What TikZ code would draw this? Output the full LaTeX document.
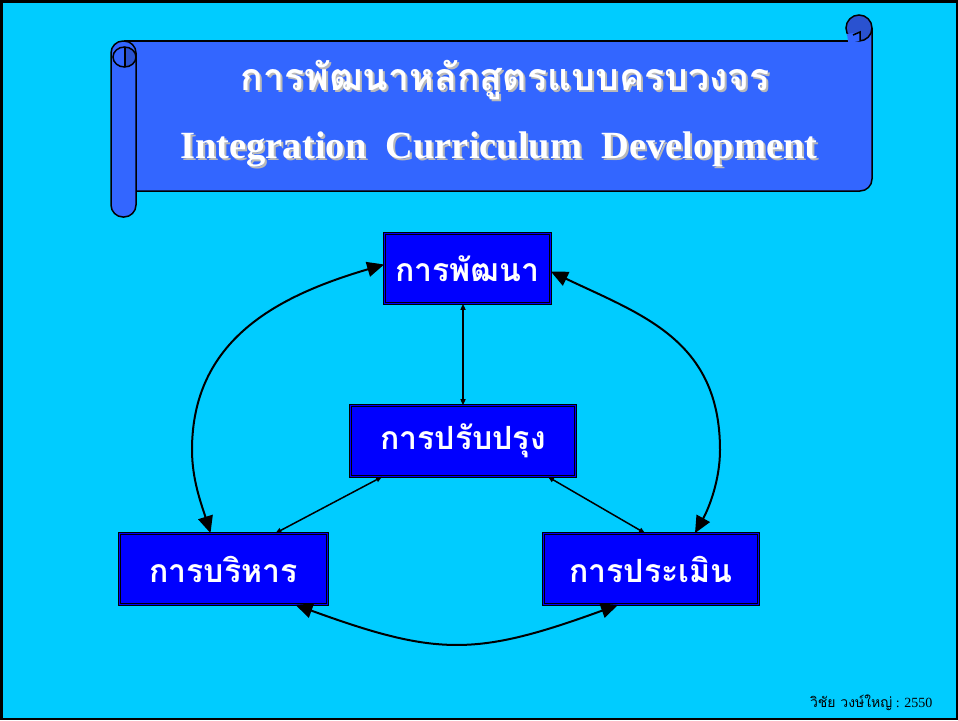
\documentclass[tikz,border=0pt]{standalone}
\usepackage{fontspec}
\setmainfont{Liberation Serif}
\newfontfamily\thaifont[Script=Thai]{Loma}
\usetikzlibrary{arrows.meta}
\definecolor{skybg}{HTML}{00CCFF}
\definecolor{scrollblue}{HTML}{3366FF}
\definecolor{curlblue}{HTML}{2A52D0}
\definecolor{boxblue}{HTML}{0000FF}
\tikzset{
  stage/.style={draw=black, line width=0.7pt, double=boxblue, double distance=1.8pt,
    fill=boxblue, text=white, inner sep=0pt,
    font=\thaifont\bfseries\fontsize{32}{36}\selectfont},
  bigarrow/.style={line width=2pt,
    {Triangle[length=17pt,width=15pt]}-{Triangle[length=17pt,width=15pt]}},
  smallarrow/.style={line width=1.5pt,
    {Triangle[length=6pt,width=5pt]}-{Triangle[length=6pt,width=5pt]}},
  shade/.style={text=gray!55},
}
\begin{document}
\begin{tikzpicture}[x=1pt,y=-1pt,semithick]
    \useasboundingbox (0,0) rectangle (958,720);
    \fill[skybg] (0,0) rectangle (958,720);
    \draw[line width=2.5pt] (1.25,1.25) rectangle (956.75,718.75);

    % scroll banner
    \begin{scope}[line width=1.5pt]
      \fill[scrollblue] (124,41) -- (859,41) -- (859,28) -- (872,28)
        [rounded corners=12pt] -- (872,191) -- (124,191) [sharp corners] -- cycle;
      \draw (124,41) -- (848,41);
      \draw[rounded corners=12pt] (872,28) -- (872,191) -- (130,191);
      \filldraw[fill=curlblue] (859,28) circle[radius=13pt];
      \fill[scrollblue] (847,34) -- (860,32) -- (860,41) -- (848,41) -- cycle;
      \draw (853,35) -- (860,32) -- (860,41);
      \filldraw[fill=scrollblue, rounded corners=12pt] (111,41) rectangle (136,217);
      \fill[curlblue] (124.5,57) ellipse[x radius=11.5pt, y radius=10pt];
      \begin{scope}
        \clip (110,40) rectangle (125,70);
        \fill[scrollblue] (124.5,57) ellipse[x radius=11.5pt, y radius=10pt];
      \end{scope}
      \draw (124.5,57) ellipse[x radius=11.5pt, y radius=10pt];
      \draw (125,47) -- (125,67);
    \end{scope}

    \node[shade, font=\thaifont\bfseries\fontsize{37.5}{42}\selectfont] (thts) at (507,82) {การพัฒนาหลักสูตรแบบครบวงจร};
    \node[text=white, font=\thaifont\bfseries\fontsize{37.5}{42}\selectfont] (tht) at (505,80) {การพัฒนาหลักสูตรแบบครบวงจร};
    \node[shade, font=\bfseries\fontsize{38.5}{42}\selectfont] (tens) at (501,151) {Integration\ \ Curriculum\ \ Development};
    \node[text=white, font=\bfseries\fontsize{38.5}{42}\selectfont] (ten) at (499,149) {Integration\ \ Curriculum\ \ Development};

    % stages
    \node[stage, minimum width=166pt, minimum height=70pt] (dev) at (467.5,268.5) {การพัฒนา};
    \node[stage, minimum width=225pt, minimum height=71pt] (imp) at (463,441) {การปรับปรุง};
    \node[stage, minimum width=208pt, minimum height=71pt] (adm) at (223.5,569) {การบริหาร};
    \node[stage, minimum width=215pt, minimum height=71pt] (eva) at (651,569) {การประเมิน};

    \draw[smallarrow] (imp.north) -- (imp.north |- dev.south);
    \draw[smallarrow] ([xshift=-81pt]imp.south) -- ([xshift=52pt]adm.north);
    \draw[smallarrow] ([xshift=85pt]imp.south) -- ([xshift=-6pt]eva.north);

    \draw[bigarrow] ([yshift=4pt]dev.west) .. controls (277,296) and (192,340) .. (192,450)
      .. controls (192,480) and (201.7,505) .. ([xshift=-13pt]adm.north);
    \draw[bigarrow] ([yshift=-3pt]dev.east) .. controls (642,315) and (720,340) .. (720,450)
      .. controls (720,480) and (709,508) .. ([xshift=44pt]eva.north);
    \draw[bigarrow] ([xshift=72pt]adm.south) to[out=-20, in=200, looseness=1.2] ([xshift=-33pt]eva.south);

    \node[anchor=east, font=\fontsize{14}{16}\selectfont] (credit) at (936,703)
      {{\thaifont วิชัย วงษ์ใหญ่} : 2550};
\end{tikzpicture}
\end{document}
